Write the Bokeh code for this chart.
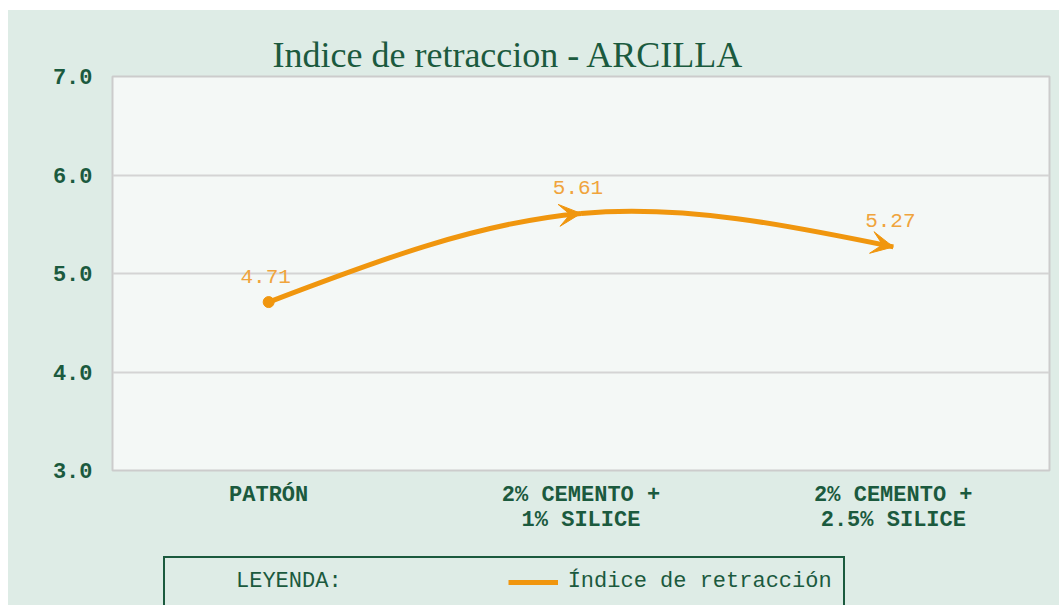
import numpy as np
from bokeh.plotting import figure
from bokeh.layouts import column
from bokeh.models import (Range1d, FixedTicker, PrintfTickFormatter, Arrow, VeeHead,
                          Legend, LegendItem)
from bokeh.embed import file_html
from bokeh.resources import INLINE
from bokeh.core.properties import value

# ---- data ----
categories = ["PATRÓN", "2% CEMENTO +\n1% SILICE", "2% CEMENTO +\n2.5% SILICE"]
values = [4.71, 5.61, 5.27]
y_ticks = [3.0, 4.0, 5.0, 6.0, 7.0]
title_text = "Indice de retraccion - ARCILLA"
legend_title = "LEYENDA:"
series_name = "Índice de retracción"

ORANGE = "#f0960e"
LABEL_ORANGE = "#f0a43c"
GREEN = "#1b5a3e"
BG = "#deece6"
PLOT_BG = "#f4f8f6"
GRID = "#d4d4d4"

n = len(values)
x_pos = [i + 0.5 for i in range(n)]
y = np.array(values, dtype=float)

# natural cubic spline slopes (uniform spacing of 1 category)
M = np.zeros(n)
if n > 2:
    A = np.zeros((n - 2, n - 2))
    b = np.zeros(n - 2)
    for k in range(n - 2):
        A[k, k] = 4.0
        if k > 0:
            A[k, k - 1] = 1.0
        if k < n - 3:
            A[k, k + 1] = 1.0
        b[k] = 6.0 * (y[k + 2] - 2 * y[k + 1] + y[k])
    M[1:-1] = np.linalg.solve(A, b)
slopes = np.zeros(n)
for i in range(n - 1):
    slopes[i] = (y[i + 1] - y[i]) - (2 * M[i] + M[i + 1]) / 6.0
slopes[n - 1] = (y[n - 1] - y[n - 2]) + (M[n - 2] + 2 * M[n - 1]) / 6.0

p = figure(width=1051, height=535, output_backend="svg", toolbar_location=None,
           x_range=Range1d(0, n), y_range=Range1d(y_ticks[0], y_ticks[-1]),
           min_border_left=104, min_border_right=10, min_border_top=66,
           min_border_bottom=75)
p.background_fill_color = PLOT_BG
p.border_fill_color = BG
p.outline_line_color = "#cccccc"
p.outline_line_width = 2

p.title.text = title_text
p.title.text_font = "Liberation Serif"
p.title.text_font_size = "36px"
p.title.text_font_style = "normal"
p.title.text_color = GREEN
p.title.align = "left"
p.title.offset = 160
p.title.standoff = 4

# axes
p.xaxis.ticker = FixedTicker(ticks=x_pos)
p.xaxis.major_label_overrides = {x: c for x, c in zip(x_pos, categories)}
p.yaxis.ticker = FixedTicker(ticks=y_ticks)
p.yaxis.formatter = PrintfTickFormatter(format="%.1f")
for ax in (p.xaxis, p.yaxis):
    ax.axis_line_color = None
    ax.major_tick_line_color = None
    ax.minor_tick_line_color = None
    ax.major_label_text_font = "Liberation Mono"
    ax.major_label_text_font_style = "bold"
    ax.major_label_text_font_size = "22px"
    ax.major_label_text_color = GREEN
p.yaxis.major_label_standoff = 14
p.xaxis.major_label_standoff = 6
p.xaxis.major_label_text_line_height = 1.0
p.xgrid.visible = False
p.ygrid.ticker = FixedTicker(ticks=y_ticks)
p.ygrid.grid_line_color = GRID
p.ygrid.grid_line_width = 2

# smooth line as bezier segments
x0 = x_pos[:-1]
x1 = x_pos[1:]
y0 = list(y[:-1])
y1 = list(y[1:])
cx0 = [x + 1 / 3 for x in x0]
cy0 = [y[i] + slopes[i] / 3 for i in range(n - 1)]
cx1 = [x - 1 / 3 for x in x1]
cy1 = [y[i + 1] - slopes[i + 1] / 3 for i in range(n - 1)]
p.bezier(x0=x0, y0=y0, x1=x1, y1=y1, cx0=cx0, cy0=cy0, cx1=cx1, cy1=cy1,
         line_color=ORANGE, line_width=5)

# start marker
p.scatter(x=[x_pos[0]], y=[values[0]], size=11, color=ORANGE)

# arrow heads at the following points
for i in range(1, n):
    d = 0.02
    p.add_layout(Arrow(end=VeeHead(size=22, fill_color=ORANGE, line_color=ORANGE, line_width=1),
                       x_start=x_pos[i] - d, y_start=values[i] - d * slopes[i],
                       x_end=x_pos[i], y_end=values[i],
                       line_color=ORANGE, line_alpha=0.0, line_width=1))

# data labels
p.text(x=x_pos, y=values, text=[f"{v:.2f}" for v in values],
       text_font=value("Liberation Mono"), text_font_size="21px",
       text_color=LABEL_ORANGE, text_align="center", text_baseline="middle",
       x_offset=-3, y_offset=-26)

# legend strip (second figure, transparent over the column background)
p2 = figure(width=1051, height=60, output_backend="svg", toolbar_location=None,
            x_range=Range1d(0, 1), y_range=Range1d(0, 1),
            x_axis_type=None, y_axis_type=None,
            min_border_left=104, min_border_right=10, min_border_top=0, min_border_bottom=0)
p2.background_fill_alpha = 0.0
p2.border_fill_alpha = 0.0
p2.outline_line_color = None
p2.xgrid.visible = False
p2.ygrid.visible = False

# proxy renderers (their data lies outside this strip's ranges, so only the legend shows them)
proxy = p2.line(x=x_pos, y=values, line_color=ORANGE, line_width=5)
dummy = p2.line(x=x_pos, y=values, line_alpha=0)
legend = Legend(items=[LegendItem(label=legend_title, renderers=[dummy]),
                       LegendItem(label=series_name, renderers=[proxy])],
                orientation="horizontal", border_line_color=GREEN, border_line_width=2,
                border_line_alpha=1.0,
                background_fill_color=BG, background_fill_alpha=1.0,
                label_text_font="Liberation Mono", label_text_font_size="22px",
                label_text_color=GREEN, glyph_width=50, glyph_height=20,
                label_standoff=10, padding=11, margin=0, spacing=166,
                location=(51, -2))
p2.add_layout(legend, "center")

layout = column(p, p2, spacing=0, styles={"background-color": BG})
layout.margin = (10, 0, 0, 8)
open("out.html", "w").write(file_html(layout, INLINE))
